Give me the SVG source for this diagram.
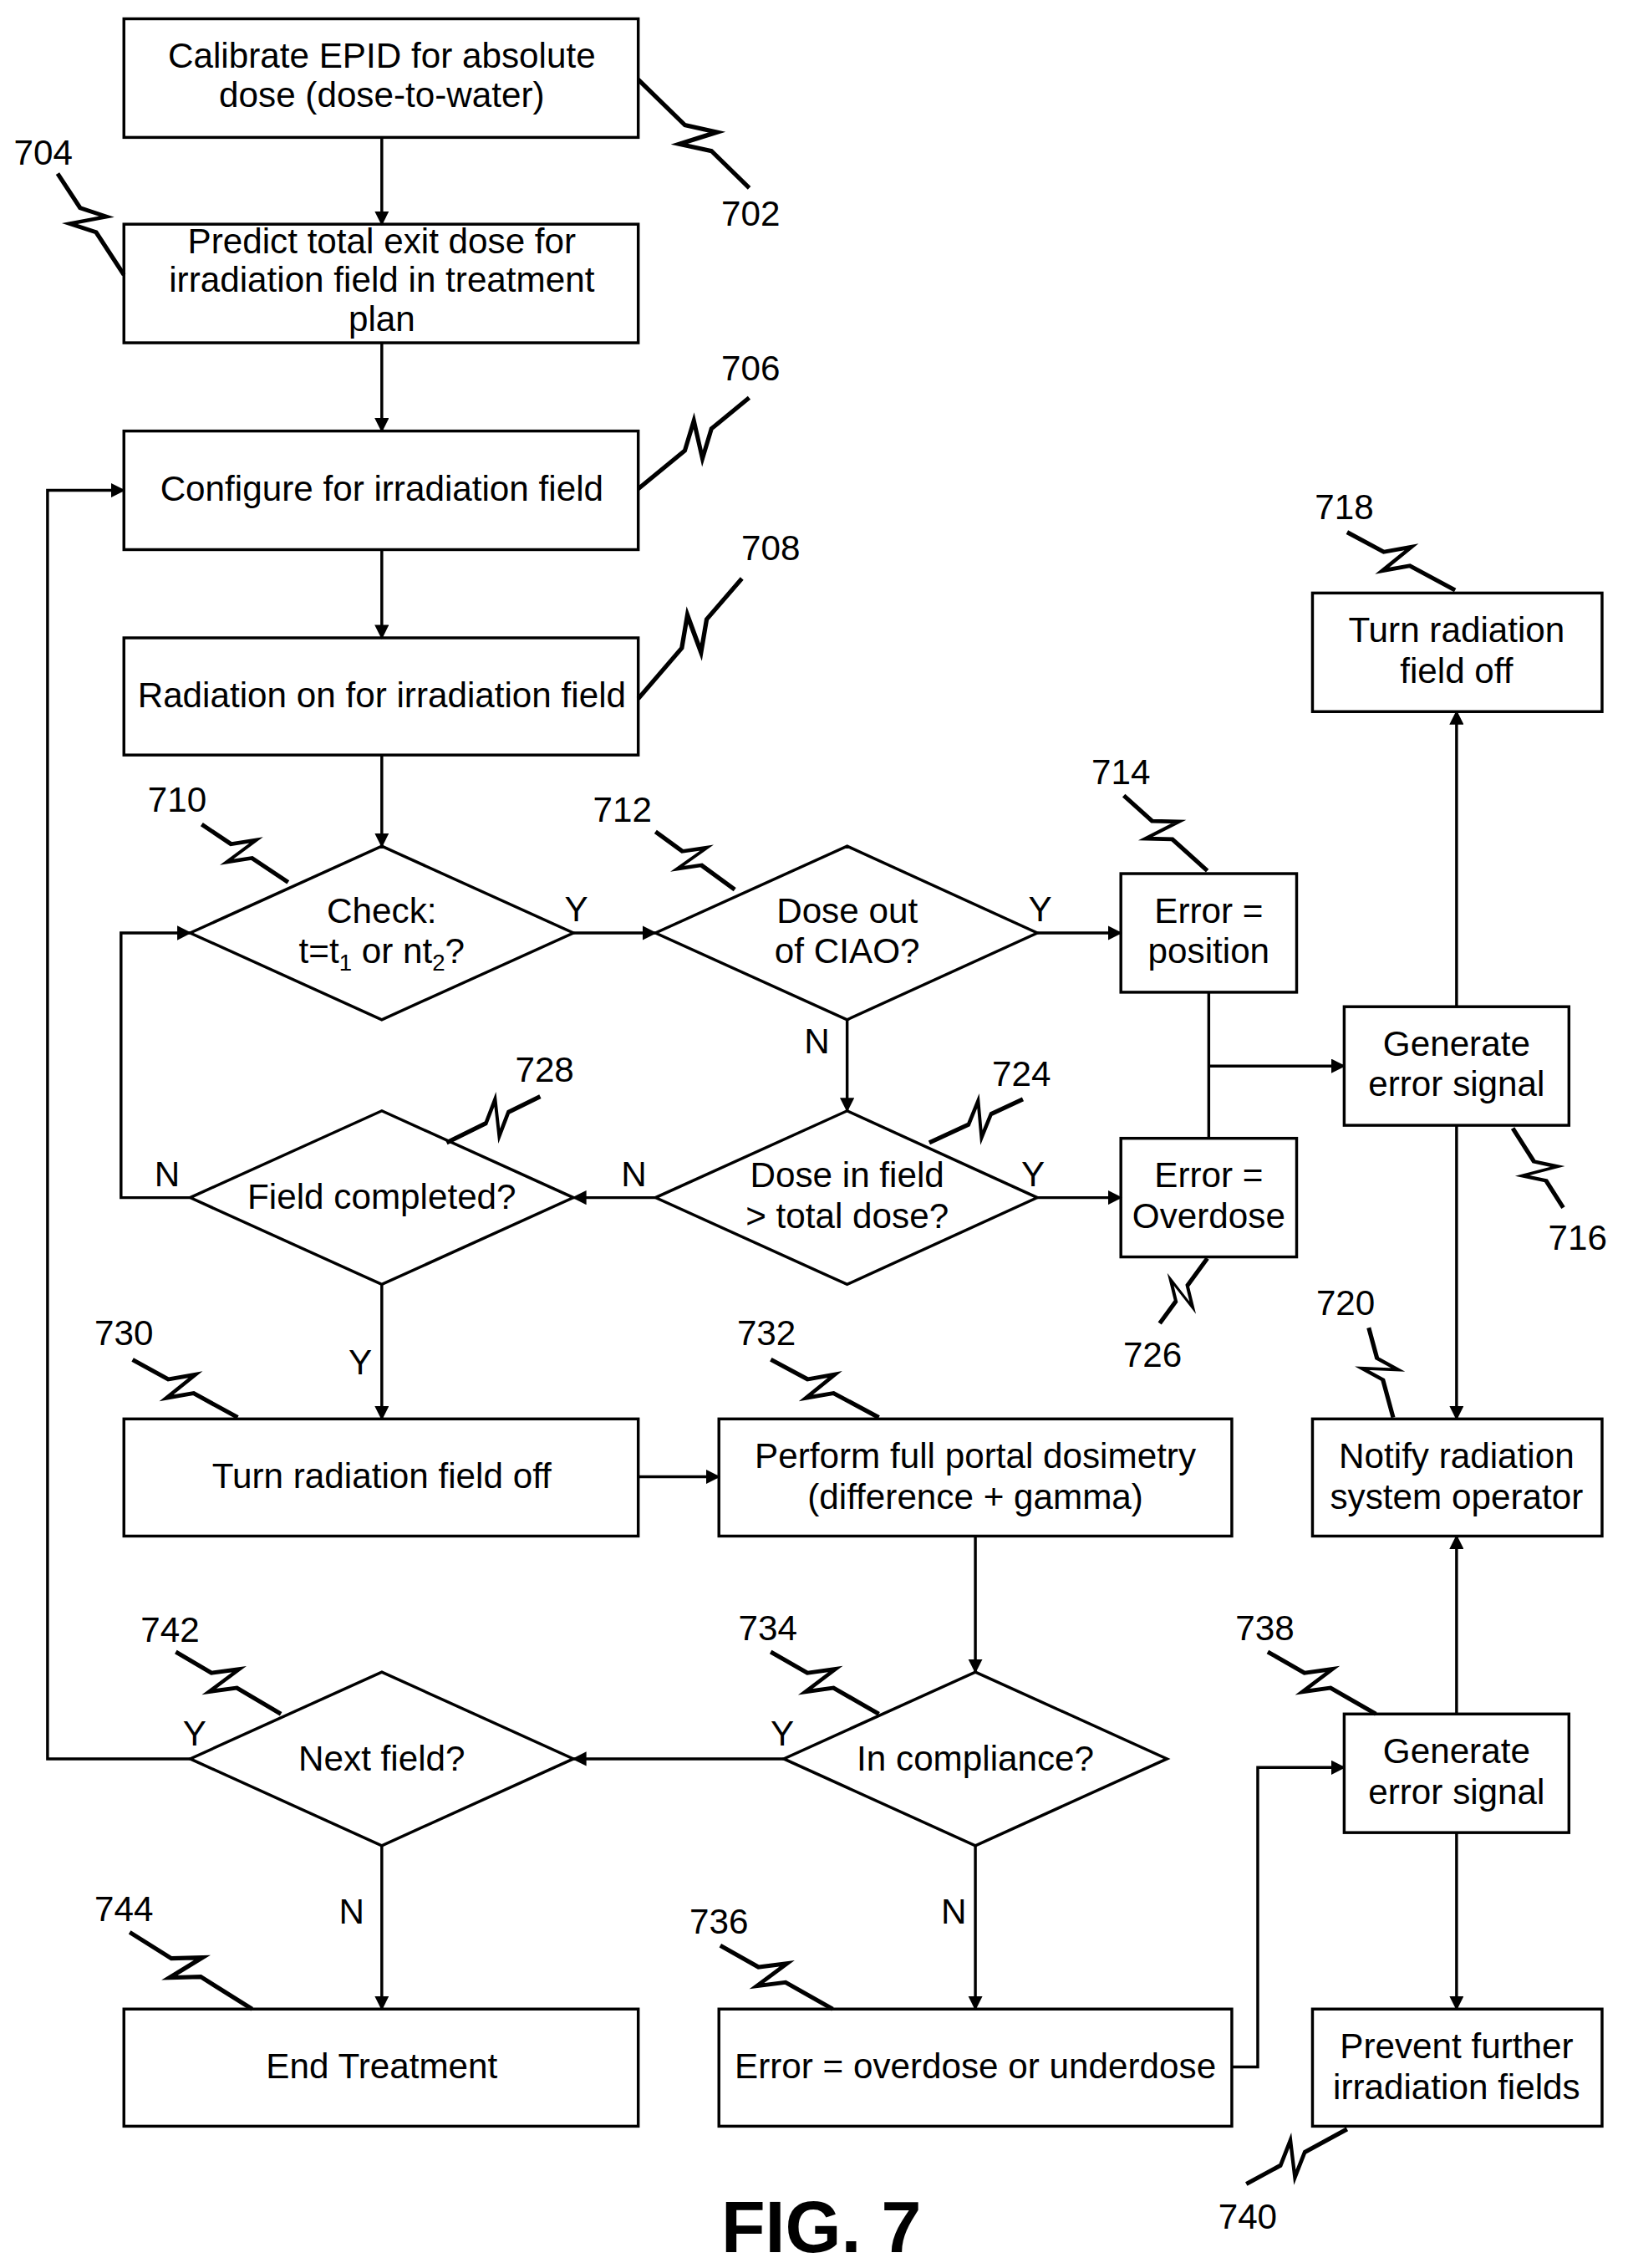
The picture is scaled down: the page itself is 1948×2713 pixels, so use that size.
<svg xmlns="http://www.w3.org/2000/svg" width="1948" height="2713" viewBox="0 0 1948 2713">
<style>
.b{fill:#fff;stroke:#000;stroke-width:2}
.t{font-family:"Liberation Sans",Arial,sans-serif;font-size:24.5px;text-anchor:middle;fill:#000}
.c{fill:none;stroke:#000;stroke-width:2}
.l{fill:none;stroke:#000;stroke-width:3;vector-effect:non-scaling-stroke}
</style>
<defs>
<marker id="a" markerWidth="10" markerHeight="10" refX="9" refY="5" orient="auto" markerUnits="userSpaceOnUse"><path d="M0,0 L10,5 L0,10 z" fill="#000"/></marker>
<path id="z" d="M0,0 L42,0 L60,-12 L48,12 L66,0 L100,0"/>
</defs>
<rect width="1948" height="2713" fill="#fff"/>
<g transform="scale(1.7239,1.7302)">
<g id="n702"><rect class="b" x="86" y="13" width="357" height="82"/><text class="t" x="265" y="47">Calibrate EPID for absolute</text><text class="t" x="265" y="74">dose (dose-to-water)</text></g>
<g id="n704"><rect class="b" x="86" y="155" width="357" height="82"/><text class="t" x="265" y="175">Predict total exit dose for</text><text class="t" x="265" y="202">irradiation field in treatment</text><text class="t" x="265" y="229">plan</text></g>
<g id="n706"><rect class="b" x="86" y="298" width="357" height="82"/><text class="t" x="265" y="346">Configure for irradiation field</text></g>
<g id="n708"><rect class="b" x="86" y="441" width="357" height="81"/><text class="t" x="265" y="489">Radiation on for irradiation field</text></g>
<g id="n710"><polygon class="b" points="265,585 398,645 265,705 132,645"/><text class="t" x="265" y="638">Check:</text><text class="t" x="265" y="666">t=t<tspan font-size="16" dy="5">1</tspan><tspan dy="-5"> or nt</tspan><tspan font-size="16" dy="5">2</tspan><tspan dy="-5">?</tspan></text></g>
<g id="n712"><polygon class="b" points="588,585 720,645 588,705 455,645"/><text class="t" x="588" y="638">Dose out</text><text class="t" x="588" y="666">of CIAO?</text></g>
<g id="n714"><rect class="b" x="778" y="604" width="122" height="82"/><text class="t" x="839" y="638">Error =</text><text class="t" x="839" y="666">position</text></g>
<g id="n718"><rect class="b" x="911" y="410" width="201" height="82"/><text class="t" x="1011" y="444">Turn radiation</text><text class="t" x="1011" y="472">field off</text></g>
<g id="n716"><rect class="b" x="933" y="696" width="156" height="82"/><text class="t" x="1011" y="730">Generate</text><text class="t" x="1011" y="758">error signal</text></g>
<g id="n724"><polygon class="b" points="588,768 720,828 588,888 455,828"/><text class="t" x="588" y="821">Dose in field</text><text class="t" x="588" y="849">&gt; total dose?</text></g>
<g id="n728"><polygon class="b" points="265,768 398,828 265,888 132,828"/><text class="t" x="265" y="836">Field completed?</text></g>
<g id="n726"><rect class="b" x="778" y="787" width="122" height="82"/><text class="t" x="839" y="821">Error =</text><text class="t" x="839" y="849">Overdose</text></g>
<g id="n730"><rect class="b" x="86" y="981" width="357" height="81"/><text class="t" x="265" y="1029">Turn radiation field off</text></g>
<g id="n732"><rect class="b" x="499" y="981" width="356" height="81"/><text class="t" x="677" y="1015">Perform full portal dosimetry</text><text class="t" x="677" y="1043">(difference + gamma)</text></g>
<g id="n720"><rect class="b" x="911" y="981" width="201" height="81"/><text class="t" x="1011" y="1015">Notify radiation</text><text class="t" x="1011" y="1043">system operator</text></g>
<g id="n742"><polygon class="b" points="265,1156 398,1216 265,1276 132,1216"/><text class="t" x="265" y="1224">Next field?</text></g>
<g id="n734"><polygon class="b" points="677,1156 810,1216 677,1276 544,1216"/><text class="t" x="677" y="1224">In compliance?</text></g>
<g id="n738"><rect class="b" x="933" y="1185" width="156" height="82"/><text class="t" x="1011" y="1219">Generate</text><text class="t" x="1011" y="1247">error signal</text></g>
<g id="n744"><rect class="b" x="86" y="1389" width="357" height="81"/><text class="t" x="265" y="1437">End Treatment</text></g>
<g id="n736"><rect class="b" x="499" y="1389" width="356" height="81"/><text class="t" x="677" y="1437">Error = overdose or underdose</text></g>
<g id="n740"><rect class="b" x="911" y="1389" width="201" height="81"/><text class="t" x="1011" y="1423">Prevent further</text><text class="t" x="1011" y="1451">irradiation fields</text></g>
<g id="connectors">
<path class="c" marker-end="url(#a)" d="M265,95 V155"/>
<path class="c" marker-end="url(#a)" d="M265,237 V298"/>
<path class="c" marker-end="url(#a)" d="M265,380 V441"/>
<path class="c" marker-end="url(#a)" d="M265,522 V585"/>
<path class="c" marker-end="url(#a)" d="M132,1216 H33 V339 H86"/>
<path class="c" marker-end="url(#a)" d="M398,645 H455"/>
<path class="c" marker-end="url(#a)" d="M720,645 H778"/>
<path class="c" marker-end="url(#a)" d="M588,705 V768"/>
<path class="c" marker-end="url(#a)" d="M720,828 H778"/>
<path class="c" marker-end="url(#a)" d="M455,828 H398"/>
<path class="c" marker-end="url(#a)" d="M132,828 H84 V645 H132"/>
<path class="c" d="M839,686 V787"/>
<path class="c" marker-end="url(#a)" d="M839,737 H933"/>
<path class="c" marker-end="url(#a)" d="M1011,696 V492"/>
<path class="c" marker-end="url(#a)" d="M1011,778 V981"/>
<path class="c" marker-end="url(#a)" d="M265,888 V981"/>
<path class="c" marker-end="url(#a)" d="M443,1021 H499"/>
<path class="c" marker-end="url(#a)" d="M677,1062 V1156"/>
<path class="c" marker-end="url(#a)" d="M544,1216 H398"/>
<path class="c" marker-end="url(#a)" d="M677,1276 V1389"/>
<path class="c" marker-end="url(#a)" d="M265,1276 V1389"/>
<path class="c" marker-end="url(#a)" d="M855,1429 H873 V1222 H933"/>
<path class="c" marker-end="url(#a)" d="M1011,1185 V1062"/>
<path class="c" marker-end="url(#a)" d="M1011,1267 V1389"/>
</g>
<g id="edge-labels">
<text class="t" x="400" y="637">Y</text><text class="t" x="722" y="637">Y</text><text class="t" x="567" y="728">N</text>
<text class="t" x="717" y="820">Y</text><text class="t" x="440" y="820">N</text><text class="t" x="116" y="820">N</text>
<text class="t" x="250" y="950">Y</text><text class="t" x="543" y="1207">Y</text><text class="t" x="135" y="1207">Y</text>
<text class="t" x="662" y="1330">N</text><text class="t" x="244" y="1330">N</text>
</g>
<g id="refs">
<use href="#z" class="l" transform="translate(443,55) rotate(44.2) scale(1.075,1)"/><text class="t" x="521" y="156">702</text>
<use href="#z" class="l" transform="translate(86,190) rotate(-123.3) scale(0.838,1)"/><text class="t" x="30" y="114">704</text>
<use href="#z" class="l" transform="translate(443,338) rotate(-39.3) scale(0.995,1)"/><text class="t" x="521" y="263">706</text>
<use href="#z" class="l" transform="translate(443,483) rotate(-49.1) scale(1.099,1)"/><text class="t" x="535" y="387">708</text>
<use href="#z" class="l" transform="translate(200,610) rotate(-146.3) scale(0.721,1)"/><text class="t" x="123" y="561">710</text>
<use href="#z" class="l" transform="translate(510,615) rotate(-144) scale(0.68,1)"/><text class="t" x="432" y="568">712</text>
<use href="#z" class="l" transform="translate(838,602) rotate(-138.1) scale(0.779,1)"/><text class="t" x="778" y="542">714</text>
<use href="#z" class="l" transform="translate(1010,408) rotate(-151.9) scale(0.85,1)"/><text class="t" x="933" y="359">718</text>
<use href="#z" class="l" transform="translate(1050,780) rotate(57.5) scale(0.652,1)"/><text class="t" x="1095" y="864">716</text>
<use href="#z" class="l" transform="translate(645,790) rotate(-24.8) scale(0.716,1)"/><text class="t" x="709" y="751">724</text>
<use href="#z" class="l" transform="translate(310,790) rotate(-26.2) scale(0.724,1)"/><text class="t" x="378" y="748">728</text>
<use href="#z" class="l" transform="translate(838,870) rotate(126.3) scale(0.558,1)"/><text class="t" x="800" y="945">726</text>
<use href="#z" class="l" transform="translate(165,980) rotate(-151.3) scale(0.832,1)"/><text class="t" x="86" y="930">730</text>
<use href="#z" class="l" transform="translate(610,980) rotate(-151.9) scale(0.85,1)"/><text class="t" x="532" y="930">732</text>
<use href="#z" class="l" transform="translate(967,980) rotate(-105.3) scale(0.643,1)"/><text class="t" x="934" y="909">720</text>
<use href="#z" class="l" transform="translate(195,1185) rotate(-149.5) scale(0.847,1)"/><text class="t" x="118" y="1135">742</text>
<use href="#z" class="l" transform="translate(610,1185) rotate(-150.2) scale(0.865,1)"/><text class="t" x="533" y="1134">734</text>
<use href="#z" class="l" transform="translate(955,1185) rotate(-150.2) scale(0.865,1)"/><text class="t" x="878" y="1134">738</text>
<use href="#z" class="l" transform="translate(175,1389) rotate(-148) scale(1.002,1)"/><text class="t" x="86" y="1328">744</text>
<use href="#z" class="l" transform="translate(578,1389) rotate(-150.6) scale(0.896,1)"/><text class="t" x="499" y="1337">736</text>
<use href="#z" class="l" transform="translate(935,1472) rotate(151.5) scale(0.796,1)"/><text class="t" x="866" y="1541">740</text>
</g>
<text x="570" y="1557" font-family="Liberation Sans,Arial,sans-serif" font-size="50" font-weight="bold" text-anchor="middle">FIG. 7</text>
</g>
</svg>
